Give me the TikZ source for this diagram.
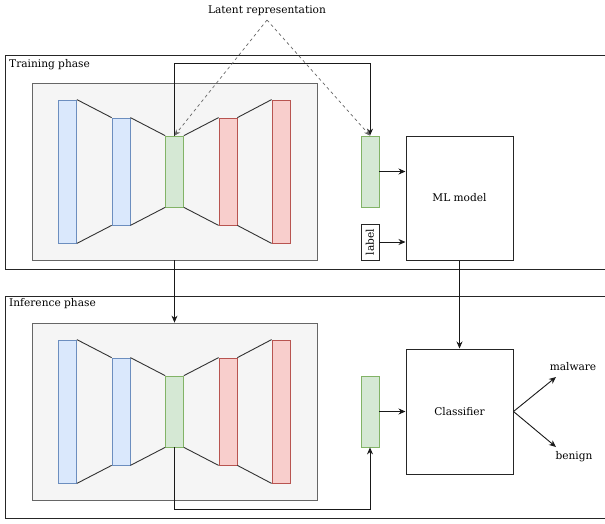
\documentclass[tikz,border=0pt]{standalone}
\usepackage{fontspec}
\setmainfont{DejaVu Serif}
\usepackage{xcolor}
\usetikzlibrary{arrows.meta, positioning, calc}
\definecolor{encblue}{HTML}{DAE8FC}
\definecolor{encblueline}{HTML}{6C8EBF}
\definecolor{decred}{HTML}{F8CECC}
\definecolor{decredline}{HTML}{B85450}
\definecolor{latgreen}{HTML}{D5E8D4}
\definecolor{latgreenline}{HTML}{82B366}
\definecolor{boxgrey}{HTML}{F5F5F5}
\definecolor{boxgreyline}{HTML}{666666}

\tikzset{
  txt/.style={font=\fontsize{10.6}{12}\selectfont, inner sep=1pt},
  layer/.style={rectangle, inner sep=0pt, minimum width=18pt, line width=0.8pt},
  enc/.style={layer, fill=encblue, draw=encblueline},
  dec/.style={layer, fill=decred, draw=decredline},
  lat/.style={layer, fill=latgreen, draw=latgreenline, minimum height=71pt},
  aebox/.style={rectangle, fill=boxgrey, draw=boxgreyline, line width=0.8pt,
    minimum width=285pt, minimum height=177pt},
  block/.style={rectangle, draw=black!85, line width=1pt, minimum width=107pt,
    font=\fontsize{10.6}{12}\selectfont},
  link/.style={draw=black!80, line width=0.9pt},
  arr/.style={draw=black!90, line width=0.9pt, -{Stealth[length=7pt,width=6pt]}},
  hint/.style={draw=black!60, dashed, line width=0.7pt, -{Stealth[length=6pt,width=5pt]}},
}

\begin{document}
\begin{tikzpicture}[x=1pt, y=-1pt]
  \useasboundingbox (0,0) rectangle (605,523);

  % Phase frames
  \draw[line width=1pt, black!85] (5,55) rectangle (620,269);
  \draw[line width=1pt, black!85] (5,296) rectangle (620,518);
  \node[txt, anchor=west] (trainlbl) at (8,65) {Training phase};
  \node[txt, anchor=west] (inferlbl) at (8,304) {Inference phase};

  % Autoencoders (training and inference)
  \foreach \p/\dy in {t/0, i/240} {
    \node[aebox] (\p box) at (174.5,171.5+\dy) {};
    \node[enc, minimum height=143pt] (\p b1) at (67.5,171.5+\dy) {};
    \node[enc, minimum height=107pt] (\p b2) at (121,171.5+\dy) {};
    \node[lat] (\p g) at (174.5,171.5+\dy) {};
    \node[dec, minimum height=107pt] (\p r1) at (228,171.5+\dy) {};
    \node[dec, minimum height=143pt] (\p r2) at (281,171.5+\dy) {};
    \draw[link] (\p b1.north east) -- (\p b2.north west)
                (\p b2.north east) -- (\p g.north west)
                (\p g.north east) -- (\p r1.north west)
                (\p r1.north east) -- (\p r2.north west);
    \draw[link] (\p b1.south east) -- (\p b2.south west)
                (\p b2.south east) -- (\p g.south west)
                (\p g.south east) -- (\p r1.south west)
                (\p r1.south east) -- (\p r2.south west);
    \node[lat] (\p z) at (370,171.5+\dy) {};
  }

  % Training side
  \node[block, minimum height=124pt] (ml) at (459.5,198) {ML model};
  \node[rectangle, draw=black!85, line width=0.9pt, inner sep=0pt,
    minimum width=18pt, minimum height=36pt] (lab) at (370,242)
    {\rotatebox{90}{\fontsize{10.6}{12}\selectfont label}};
  \draw[arr] (tz.east) -- (tz.east -| ml.west);
  \draw[arr] (lab.east) -- (lab.east -| ml.west);
  \draw[arr] (tg.north) -- ++(0,-72) -| (tz.north);

  % Latent representation hint
  \node[txt] (latent) at (267,11) {Latent representation};
  \coordinate (apex) at (267,20);
  \draw[hint] (apex) -- (tg.north);
  \draw[hint] (apex) -- (tz.north);

  % Inference side
  \node[block, minimum height=125pt] (cls) at (459.5,411.5) {Classifier};
  \draw[arr] (tbox.south) -- (tbox.south |- ibox.north);
  \draw[arr] (ml.south) -- (cls.north);
  \draw[arr] (iz.east) -- (iz.east -| cls.west);
  \draw[arr] (ig.south) -- ++(0,62) -| (iz.south);

  % Outputs
  \node[txt] (mal) at (573,367) {malware};
  \node[txt] (ben) at (574,457) {benign};
  \coordinate (malend) at (556,377);
  \coordinate (benend) at (556,447);
  \draw[arr] (cls.east) -- (malend);
  \draw[arr] (cls.east) -- (benend);
\end{tikzpicture}
\end{document}
